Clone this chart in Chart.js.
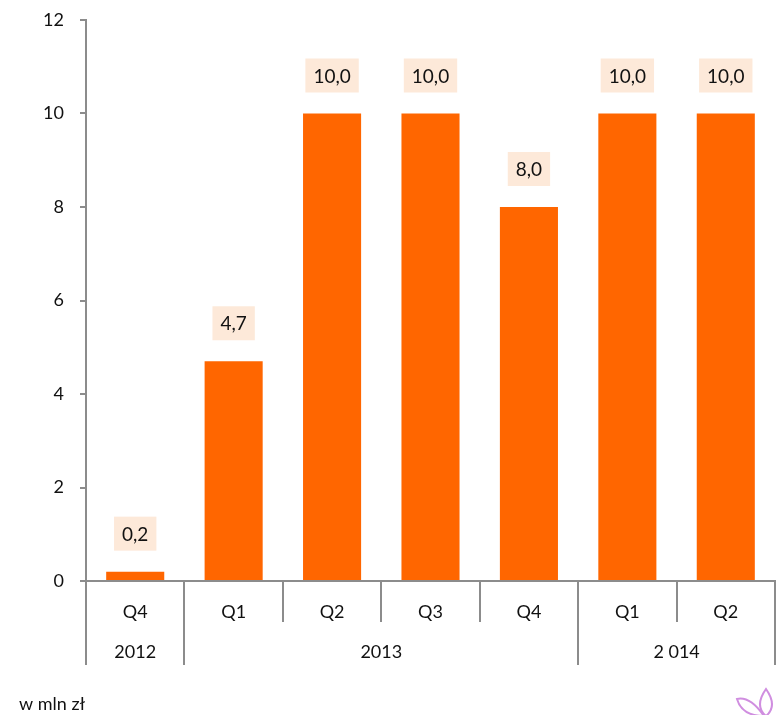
<!DOCTYPE html>
<html>
<head>
<meta charset="utf-8">
<script src="https://cdn.jsdelivr.net/npm/chart.js@4.4.1/dist/chart.umd.min.js"></script>
<style>
  html, body { margin: 0; padding: 0; background: #fff; }
  #wrap { width: 778px; height: 715px; position: relative; }
</style>
</head>
<body>
<div id="wrap"><canvas id="chart"></canvas></div>
<script>
// --- data ---
const quarters = ["Q4", "Q1", "Q2", "Q3", "Q4", "Q1", "Q2"];
const values = [0.2, 4.7, 10.0, 10.0, 8.0, 10.0, 10.0];
// years: label + index range of quarters
const years = ["2012", "2013", "2 014"];
const yearStart = [0, 1, 5];
const yearEnd = [0, 4, 6];
const yTicks = [0, 2, 4, 6, 8, 10, 12];
const unitText = "w mln zł";

const FONT = "Lato, 'Open Sans', sans-serif";
const GRAY = "#8c8c8c";

/* étiquettes de valeur avec fond pêche */
const valueLabels = {
  id: "valueLabels",
  afterDatasetsDraw(chart) {
    const ctx = chart.ctx;
    const meta = chart.getDatasetMeta(0);
    ctx.save();
    ctx.font = "19px " + FONT;
    ctx.textAlign = "center";
    ctx.textBaseline = "middle";
    meta.data.forEach((bar, i) => {
      const txt = values[i].toFixed(1).replace(".", ",");
      const w = ctx.measureText(txt).width + 16;
      const h = 34;
      const cy = bar.y - 38;
      ctx.fillStyle = "#fde9d9";
      ctx.fillRect(bar.x - w / 2, cy - h / 2, w, h);
      ctx.fillStyle = "#111";
      ctx.fillText(txt, bar.x, cy + 1);
    });
    ctx.restore();
  }
};

/* axe des catégories à deux niveaux + unité + logo */
const categoryTable = {
  id: "categoryTable",
  afterDraw(chart) {
    const ctx = chart.ctx;
    const x = chart.scales.x;
    const base = chart.chartArea.bottom;
    const step = x.getPixelForValue(1) - x.getPixelForValue(0);
    const edge = i => x.getPixelForValue(i) - step / 2;

    ctx.save();
    ctx.strokeStyle = GRAY;
    ctx.lineWidth = 2;

    // séparateurs
    for (let i = 0; i <= quarters.length; i++) {
      const isYearEdge = yearStart.includes(i) || i === quarters.length;
      const px = Math.round(edge(i));
      ctx.beginPath();
      ctx.moveTo(px, base);
      ctx.lineTo(px, base + (isYearEdge ? 84 : 41));
      ctx.stroke();
    }

    ctx.fillStyle = "#111";
    ctx.font = "18px " + FONT;
    ctx.textAlign = "center";
    ctx.textBaseline = "middle";
    quarters.forEach((q, i) => ctx.fillText(q, x.getPixelForValue(i), base + 31));
    years.forEach((y, k) => {
      const cx = (edge(yearStart[k]) + edge(yearEnd[k] + 1)) / 2;
      ctx.fillText(y, cx, base + 71);
    });

    ctx.textAlign = "left";
    ctx.fillText(unitText, 19, 704);

    // petit logo (fleur)
    ctx.strokeStyle = "#d08ee0";
    ctx.lineWidth = 2;
    ctx.beginPath();
    ctx.moveTo(766, 716);
    ctx.quadraticCurveTo(754, 706, 766, 689);
    ctx.quadraticCurveTo(778, 706, 766, 716);
    ctx.stroke();
    ctx.beginPath();
    ctx.moveTo(764, 716);
    ctx.quadraticCurveTo(750, 696, 737, 699);
    ctx.quadraticCurveTo(742, 716, 764, 716);
    ctx.stroke();
    ctx.restore();
  }
};

new Chart(document.getElementById("chart"), {
  type: "bar",
  data: {
    labels: quarters,
    datasets: [{
      data: values,
      backgroundColor: "#ff6600",
      categoryPercentage: 1,
      barPercentage: 0.59
    }]
  },
  options: {
    responsive: true,
    maintainAspectRatio: false,
    animation: false,
    layout: { padding: { top: 20, right: 3, left: 0, bottom: 0 } },
    plugins: { legend: { display: false }, tooltip: { enabled: false } },
    scales: {
      x: {
        ticks: { display: false },
        grid: { display: false },
        border: { display: true, color: GRAY, width: 2 },
        afterFit(scale) {
          scale.height = 134;
          scale.paddingLeft = 0; scale.paddingRight = 0;
        }
      },
      y: {
        min: 0,
        max: 12,
        afterBuildTicks(scale) { scale.ticks = yTicks.map(v => ({ value: v })); },
        ticks: { color: "#111", font: { family: FONT, size: 18 }, padding: 16 },
        grid: { drawOnChartArea: false, color: GRAY, lineWidth: 2, tickLength: 6 },
        border: { display: true, color: GRAY, width: 2 },
        afterFit(scale) {
          scale.width = 86;
          scale.paddingTop = 0; scale.paddingBottom = 0;
        }
      }
    }
  },
  plugins: [valueLabels, categoryTable]
});
</script>
</body>
</html>
